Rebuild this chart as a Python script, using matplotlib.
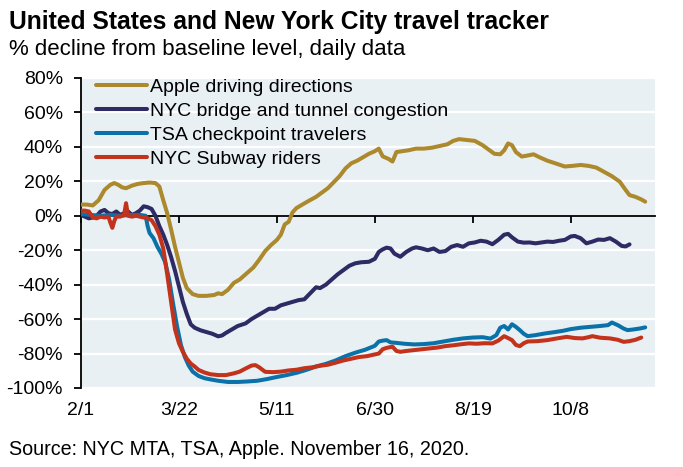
import matplotlib
matplotlib.use("Agg")
import matplotlib.pyplot as plt
import numpy as np

plt.rcParams['font.family'] = ['Liberation Sans', 'DejaVu Sans']

# days counted from 2020-02-01
apple_days = [0, 3, 6, 9, 12, 15, 17, 19, 21, 23, 26, 29, 32, 35, 38, 40, 42, 44, 46, 48,
              50, 52, 54, 57, 60, 64, 68, 70, 72, 75, 78, 81, 84, 88, 91, 94, 97, 100, 102, 104,
              106, 108, 110, 113, 116, 120, 123, 126, 129, 132, 135, 138, 141, 144, 147, 150, 152, 154, 157, 159,
              161, 164, 167, 171, 175, 179, 183, 187, 190, 193, 197, 201, 205, 208, 211, 214, 216, 218, 220, 222,
              225, 228, 231, 234, 238, 242, 247, 251, 255, 259, 263, 267, 271, 275, 278, 280, 283, 286, 288]
apple_vals = [6.5, 6.5, 6, 9, 15, 18, 19, 18, 16.5, 16, 17.5, 18.5, 19, 19.3, 19, 17, 9, 1.5, -8, -18,
              -27, -36, -42, -45.5, -46.5, -46.5, -46, -45, -45.5, -43, -39, -37, -34, -30, -25.5, -20.5, -17, -14, -11, -5,
              -3.5, 2, 4.5, 6.5, 8.5, 11, 13.5, 16, 19.5, 23, 27.5, 30.5, 32, 34, 36, 37.5, 39, 34.5, 33, 31.5,
              37, 37.5, 38, 39, 39, 39.5, 40.5, 41.5, 43.5, 44.5, 44, 43.5, 41, 38.5, 36, 35.7, 38, 42, 41, 37,
              34.4, 35, 35.7, 34, 32, 30.5, 28.6, 29, 29.5, 29, 28, 25.5, 23, 19.8, 15, 12, 11, 9.5, 8.2]

bridge_days = [0, 2, 4, 6, 8, 10, 12, 14, 16, 18, 20, 22, 24, 26, 28, 30, 32, 34, 36, 38,
               40, 42, 44, 46, 48, 50, 52, 54, 56, 58, 61, 64, 67, 70, 72, 74, 77, 80, 84, 87,
               90, 93, 96, 99, 102, 105, 108, 111, 114, 117, 120, 122, 125, 128, 131, 134, 137, 140, 143, 147,
               150, 152, 154, 156, 158, 160, 163, 166, 169, 171, 174, 177, 180, 183, 186, 189, 192, 195, 198, 201,
               204, 207, 210, 213, 216, 218, 220, 223, 226, 229, 232, 235, 238, 241, 244, 247, 250, 252, 255, 258,
               261, 264, 267, 270, 273, 276, 278, 280]
bridge_vals = [0.5, -0.5, -1.5, -1, 0, 2.5, 3.4, 1.5, 1, 2.5, 0.5, 1.5, 2.5, 0.5, 1.5, 3, 5.5, 5, 4, 0,
               -6, -11, -17, -24, -32, -41, -50, -57, -63, -65, -66.5, -67.5, -68.5, -70, -69.5, -68, -66, -64, -62.5, -60,
               -58, -56, -54, -54, -52, -51, -50, -49, -48.5, -45, -41.5, -42, -40, -37, -34, -31.5, -29, -27.6, -27, -26.7,
               -25, -21, -19.5, -18.5, -19, -22, -23.8, -21, -19, -18.3, -19, -20, -19, -21, -20.5, -18, -17, -18, -16, -15.5,
               -14.5, -15, -16.5, -14, -11, -10.5, -12.5, -15, -15.6, -15.5, -16, -15.5, -15, -15.2, -14.5, -14, -12, -11.7, -13, -16,
               -15, -13.8, -14, -13, -15, -17.5, -17.8, -16.6]

tsa_days = [0, 5, 10, 15, 20, 25, 30, 33, 34, 35, 37, 39, 41, 43, 45, 47, 49, 51, 53, 55,
            57, 60, 63, 66, 70, 75, 80, 85, 90, 95, 100, 105, 110, 115, 120, 125, 130, 135, 140, 145,
            150, 152, 154, 156, 158, 161, 165, 170, 175, 180, 185, 190, 195, 200, 205, 209, 212, 214, 216, 218,
            220, 222, 224, 226, 228, 232, 237, 242, 246, 250, 255, 260, 265, 269, 271, 274, 277, 279, 282, 285,
            288]
tsa_vals = [1, 0.5, 0, 0.5, 0, 0.5, 0.5, 0, -6, -10, -13, -18, -22, -27, -37, -51, -64, -75, -82, -87,
            -90.5, -93, -94.3, -95, -95.8, -96.5, -96.5, -96.2, -95.8, -94.8, -93.6, -92.5, -91.2, -89.5, -87.5, -86, -84, -81.5, -79.5, -77.8,
            -75.5, -73, -72.5, -72.2, -73.5, -73.8, -74.3, -74.7, -74.5, -74, -73, -72, -71.2, -70.7, -70.5, -71.3, -69.3, -65, -64, -66,
            -63, -64.5, -66.4, -68.5, -69.9, -69.3, -68.3, -67.5, -66.8, -65.8, -65, -64.5, -64, -63.5, -62, -63.5, -65.5, -66.4, -66, -65.5,
            -64.8]

subway_days = [0, 2, 4, 6, 8, 10, 12, 14, 15, 16, 17, 18, 20, 22, 23, 24, 26, 28, 30, 32,
               34, 36, 38, 40, 42, 44, 46, 48, 50, 52, 54, 56, 58, 60, 63, 66, 70, 74, 78, 81,
               84, 87, 89, 91, 94, 98, 102, 106, 110, 114, 118, 122, 126, 130, 134, 138, 142, 146, 150, 152,
               154, 156, 159, 161, 163, 166, 170, 174, 178, 182, 186, 190, 194, 198, 202, 206, 210, 213, 216, 218,
               220, 222, 224, 226, 228, 233, 238, 243, 248, 252, 256, 259, 261, 265, 270, 274, 277, 280, 283, 286]
subway_vals = [3, 3, 2.5, -1, -1.5, -0.5, -1, -0.5, -4, -7, -3, -0.5, -0.5, 0.5, 7.3, 0, -0.5, 0, -0.5, -1,
               -1.5, -2.5, -6, -11, -19, -34, -50, -66, -74, -79, -83, -85.8, -87.5, -89.5, -91, -92, -92.5, -92.5, -91.5, -90.5,
               -88.7, -87, -86.7, -88, -90.6, -90.8, -90.5, -89.8, -89.4, -88.5, -88, -87.1, -86.5, -85.3, -84, -83, -82, -81.5, -80.5, -80,
               -77.5, -76.7, -76, -78.5, -79, -78.5, -78, -77.5, -77, -76.5, -75.7, -75.2, -74.6, -74.1, -74.3, -74, -74.1, -72.5, -69.9, -71,
               -72.2, -75, -75.7, -74, -73, -72.8, -72.2, -71.2, -70.3, -71, -71.2, -70.5, -69.9, -70.8, -71.2, -72, -73.2, -72.8, -72, -70.7]

series_labels = ['Apple driving directions', 'NYC bridge and tunnel congestion',
                 'TSA checkpoint travelers', 'NYC Subway riders']
series_colors = ['#ac892c', '#2d2a64', '#0a72a8', '#c3321b']

tick_days = [0, 50, 100, 150, 200, 250]
tick_labels = ['2/1', '3/22', '5/11', '6/30', '8/19', '10/8']
y_ticks = [80, 60, 40, 20, 0, -20, -40, -60, -80, -100]

start = np.datetime64('2020-02-01')

def to_dates(days):
    return start + np.array(days).astype('timedelta64[D]')

fig = plt.figure(figsize=(6.83, 4.67), dpi=100)
ax = fig.add_axes([81 / 683, 1 - 388 / 467, 574 / 683, 310 / 467])
ax.set_facecolor('#e9f0f4')

for yv in y_ticks:
    ax.axhline(yv, color='white', lw=1.6, zorder=1)

all_days = [apple_days, bridge_days, tsa_days, subway_days]
all_vals = [apple_vals, bridge_vals, tsa_vals, subway_vals]
for d, v, lab, col in zip(all_days, all_vals, series_labels, series_colors):
    ax.plot(to_dates(d), v, color=col, lw=2.9, label=lab, zorder=3,
            solid_joinstyle='round', solid_capstyle='round')

ax.set_xlim(to_dates([0])[0], to_dates([293])[0])
ax.set_ylim(-100, 80)
ax.set_yticks(y_ticks)
ax.set_yticklabels([f'{v}%' for v in y_ticks])

for side in ['top', 'right']:
    ax.spines[side].set_visible(False)
ax.spines['left'].set_linewidth(1.3)
ax.spines['bottom'].set_position(('data', 0))
ax.spines['bottom'].set_linewidth(1.3)
ax.spines['bottom'].set_zorder(2)
ax.tick_params(axis='y', length=5, width=1.3, pad=8, labelsize=14)
ax.set_xticks(to_dates(tick_days))
ax.tick_params(axis='x', length=5, width=1.3, labelbottom=False)

sec = ax.secondary_xaxis('bottom')
sec.set_xticks(to_dates(tick_days))
sec.set_xticklabels(tick_labels)
sec.spines['bottom'].set_visible(False)
sec.tick_params(axis='x', length=0, pad=10, labelsize=14)

ax.legend(loc='upper left', bbox_to_anchor=(15 / 574, 1.0), frameon=False, fontsize=14,
          handlelength=2.6, handletextpad=0.2, labelspacing=0.34, borderaxespad=0, borderpad=0)

fig.text(9 / 683, 1 - 29 / 467, 'United States and New York City travel tracker',
         fontsize=17.7, fontweight='bold', va='baseline')
fig.text(9 / 683, 1 - 55 / 467, '% decline from baseline level, daily data',
         fontsize=16, va='baseline')
fig.text(9 / 683, 1 - 455 / 467, 'Source: NYC MTA, TSA, Apple. November 16, 2020.',
         fontsize=14.2, va='baseline')

fig.savefig('out.png', dpi=100)
